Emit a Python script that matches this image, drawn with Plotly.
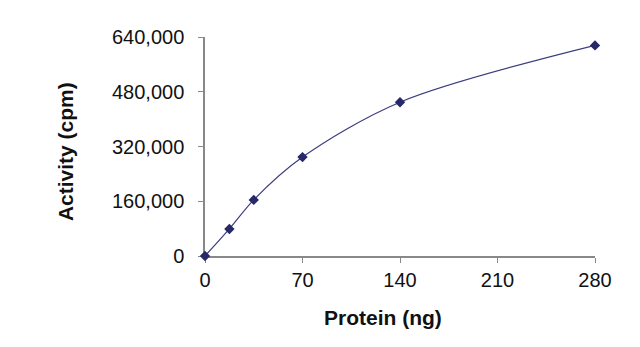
import plotly.graph_objects as go

# Protein amount (ng) vs measured activity (cpm)
protein_ng = [0, 17.5, 35, 70, 140, 280]
activity_cpm = [0, 79000, 164000, 289000, 449500, 615500]

x_ticks = [0, 70, 140, 210, 280]
y_ticks = [0, 160000, 320000, 480000, 640000]
y_tick_labels = ["0", "160,000", "320,000", "480,000", "640,000"]

x_title = "Protein (ng)"
y_title = "Activity (cpm)"

fig = go.Figure(
    go.Scatter(
        x=protein_ng,
        y=activity_cpm,
        mode="lines+markers",
        line=dict(color="#3c3c80", width=1.2, shape="spline", smoothing=0.9),
        marker=dict(symbol="diamond", size=8, color="#262868"),
        cliponaxis=False,
        showlegend=False,
    )
)

axis_font = dict(family="Liberation Sans, Arial, sans-serif", size=20, color="#111111")
title_font = dict(family="Liberation Sans, Arial, sans-serif", size=21, color="#111111")

fig.update_layout(
    width=640,
    height=347,
    margin=dict(l=205, r=45, t=37, b=91),
    paper_bgcolor="white",
    plot_bgcolor="white",
    xaxis=dict(
        range=[0, 280],
        tickvals=x_ticks,
        ticktext=[str(v) for v in x_ticks],
        ticks="outside",
        ticklen=5,
        tickcolor="#888888",
        showline=True,
        linecolor="#888888",
        linewidth=1.5,
        showgrid=False,
        zeroline=False,
        tickfont=axis_font,
        layer="below traces",
    ),
    yaxis=dict(
        range=[0, 640000],
        tickvals=y_ticks,
        ticktext=y_tick_labels,
        ticks="outside",
        ticklen=5,
        tickcolor="#888888",
        showline=True,
        linecolor="#888888",
        linewidth=1.5,
        showgrid=False,
        zeroline=False,
        tickfont=axis_font,
        ticklabelstandoff=10,
        layer="below traces",
    ),
    annotations=[
        dict(
            text=f"<b>{x_title}</b>",
            xref="paper", yref="paper",
            x=0.456, y=-0.283,
            xanchor="center", yanchor="middle",
            showarrow=False,
            font=title_font,
        ),
        dict(
            text=f"<b>{y_title}</b>",
            xref="paper", yref="paper",
            x=-0.359, y=0.479,
            xanchor="center", yanchor="middle",
            textangle=-90,
            showarrow=False,
            font=title_font,
        ),
    ],
)

fig.write_html("out.html")
